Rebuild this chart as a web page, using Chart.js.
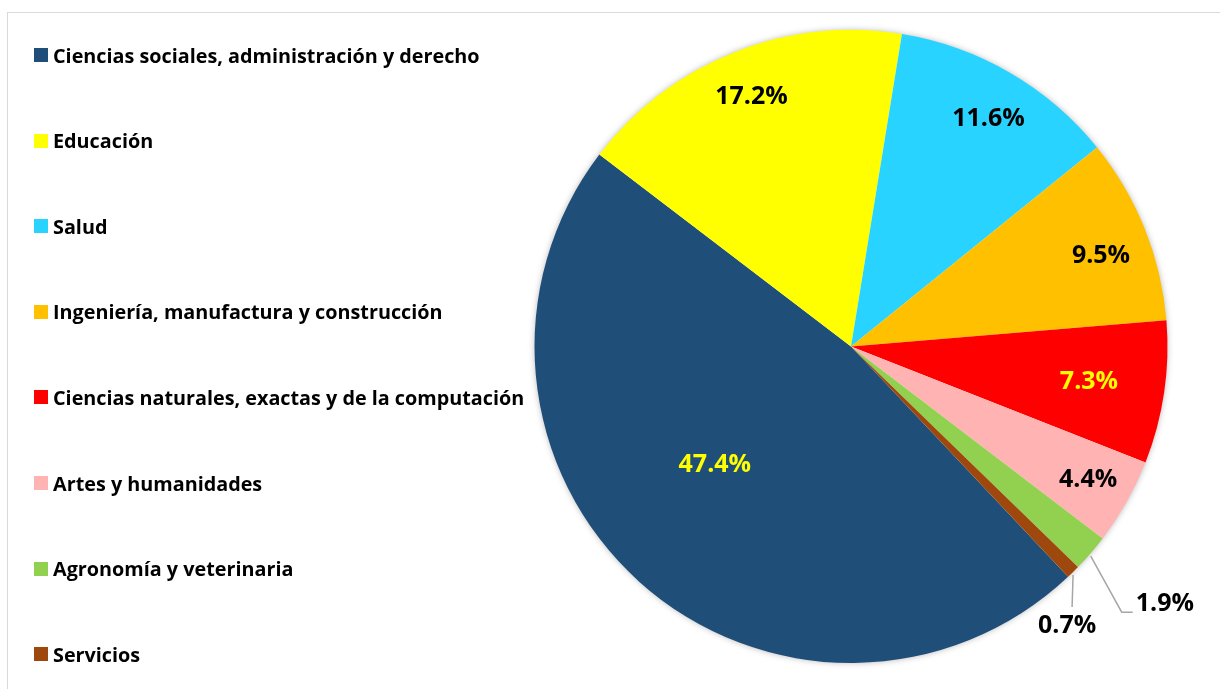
<!DOCTYPE html>
<html>
<head>
<meta charset="utf-8">
<script src="https://cdn.jsdelivr.net/npm/chart.js@4.4.1/dist/chart.umd.min.js"></script>
<style>
  body { margin: 0; background: #fff; }
  #wrap { position: relative; width: 1220px; height: 689px; overflow: hidden; }
  #frame { position: absolute; left: 7px; top: 12px; width: 1300px; height: 800px; border: 1px solid #d9d9d9; }
  #chartCanvas { position: absolute; left: 0; top: 0; }
  #legend { position: absolute; left: 0; top: 0; font-family: "Open Sans", sans-serif; font-weight: 700; font-size: 19.8px; color: #000; }
  .item { position: absolute; left: 34px; white-space: nowrap; display: flex; align-items: center; height: 20px; }
  .box { width: 14px; height: 14px; margin-right: 5px; }
</style>
</head>
<body>
<div id="wrap">
  <div id="frame"></div>
  <canvas id="chartCanvas" width="1220" height="689"></canvas>
  <div id="legend"></div>
</div>
<script>
// data
const areas = [
  "Ciencias sociales, administración y derecho",
  "Educación",
  "Salud",
  "Ingeniería, manufactura y construcción",
  "Ciencias naturales, exactas y de la computación",
  "Artes y humanidades",
  "Agronomía y veterinaria",
  "Servicios"
];
const shares = [47.4, 17.2, 11.6, 9.5, 7.3, 4.4, 1.9, 0.7];
const sliceColors = ["#1F4E79", "#FFFF00", "#29D3FF", "#FFC000", "#FF0000", "#FFB3B3", "#92D050", "#9E480E"];
const labelColors = ["#FFFF00", "#000", "#000", "#000", "#FFFF00", "#000", "#000", "#000"];

// legend (html, one row every ~85.6px)
let legendDiv = document.querySelector("#legend");
areas.forEach((name, i) => {
  let row = document.createElement("div");
  row.className = "item";
  row.style.top = (45 + i * 85.6) + "px";
  row.innerHTML = '<span class="box" style="background:' + sliceColors[i] + '"></span>' + name;
  legendDiv.appendChild(row);
});

// soft shadow behind the pie
const pieShadow = {
  id: "pieShadow",
  beforeDatasetsDraw(chart) {
    let arc = chart.getDatasetMeta(0).data[0];
    if (!arc) return;
    let ctx = chart.ctx;
    ctx.save();
    ctx.shadowColor = "rgba(0,0,0,0.35)";
    ctx.shadowBlur = 7;
    ctx.fillStyle = "#fff";
    ctx.beginPath();
    ctx.arc(arc.x, arc.y, arc.outerRadius - 1, 0, Math.PI * 2);
    ctx.fill();
    ctx.restore();
  }
};

// percent labels, inside or outside with a leader line
const sliceLabels = {
  id: "sliceLabels",
  afterDatasetsDraw(chart, args, opts) {
    let ctx = chart.ctx;
    let meta = chart.getDatasetMeta(0);
    ctx.save();
    ctx.font = "700 25px 'Open Sans', sans-serif";
    ctx.textBaseline = "middle";
    meta.data.forEach((arc, i) => {
      let txt = shares[i].toFixed(1) + "%";
      let mid = (arc.startAngle + arc.endAngle) / 2 + (opts.angleShift[i] || 0) * Math.PI / 180;
      let out = opts.outside[i];
      if (out) {
        let ex = arc.x + Math.cos(mid) * arc.outerRadius;
        let ey = arc.y + Math.sin(mid) * arc.outerRadius;
        ctx.strokeStyle = "#A6A6A6";
        ctx.lineWidth = 1.5;
        ctx.beginPath();
        ctx.moveTo(ex, ey + 3);
        out.path.forEach(p => ctx.lineTo(ex + p[0], ey + p[1]));
        ctx.stroke();
        ctx.fillStyle = "#000";
        ctx.textAlign = out.align;
        ctx.fillText(txt, ex + out.text[0], ey + out.text[1]);
      } else {
        let r = arc.outerRadius * opts.dist[i];
        ctx.fillStyle = labelColors[i];
        ctx.textAlign = "center";
        ctx.fillText(txt, arc.x + Math.cos(mid) * r, arc.y + Math.sin(mid) * r);
      }
    });
    ctx.restore();
  }
};

let ctx = document.querySelector("#chartCanvas");
let graph = new Chart(ctx, {
  type: "pie",
  data: {
    labels: areas,
    datasets: [{
      data: shares,
      backgroundColor: sliceColors,
      borderWidth: 0,
      hoverOffset: 0
    }]
  },
  options: {
    responsive: false,
    animation: false,
    rotation: 136.7,
    layout: { padding: { left: 534, right: 52, top: 30, bottom: 26 } },
    plugins: {
      legend: { display: false },
      tooltip: { enabled: false },
      sliceLabels: {
        dist: [0.57, 0.85, 0.84, 0.84, 0.76, 0.86],
        angleShift: [7, 0, 1, 2, 0, 0],
        outside: {
          6: { path: [[31, 59], [42, 59]], text: [45, 51], align: "left" },
          7: { path: [[-1, 35]], text: [-6, 54], align: "center" }
        }
      }
    }
  },
  plugins: [pieShadow, sliceLabels]
});
</script>
</body>
</html>
